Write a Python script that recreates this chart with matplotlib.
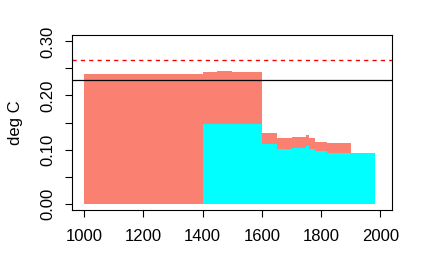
import matplotlib
matplotlib.use('Agg')
import matplotlib.pyplot as plt
import numpy as np

plt.rcParams['font.family'] = ['Liberation Sans', 'DejaVu Sans']

# step edges (years) and heights (deg C)
salmon_edges = [1000, 1400, 1450, 1500, 1600, 1650, 1700, 1750, 1760, 1780, 1820, 1900]
salmon_vals = [0.239, 0.2427, 0.2445, 0.2427, 0.1307, 0.1213, 0.1232, 0.127, 0.1213, 0.1139, 0.112]

cyan_edges = [1400, 1600, 1650, 1700, 1750, 1760, 1780, 1820, 1980]
cyan_vals = [0.148, 0.1104, 0.1008, 0.1030, 0.1066, 0.1008, 0.0965, 0.0940]

black_level = 0.229
red_level = 0.266

xticks = [1000, 1200, 1400, 1600, 1800, 2000]
yticks = [0.00, 0.05, 0.10, 0.15, 0.20, 0.25, 0.30]
ytick_labels = ['0.00', '', '0.10', '', '0.20', '', '0.30']


def main():
    fig = plt.figure(figsize=(4.28, 2.80), dpi=100)
    ax = fig.add_axes([72.3 / 428, 1 - 210 / 280, 320 / 428, 175 / 280])

    ax.stairs(salmon_vals, salmon_edges, fill=True, baseline=0, color='salmon', lw=0)
    ax.stairs(cyan_vals, cyan_edges, fill=True, baseline=0, color='cyan', lw=0)

    ax.axhline(black_level, color='black', lw=0.9)
    ax.axhline(red_level, color='red', lw=1.0, linestyle=(0, (3, 3)))

    ax.set_xlim(960, 2040)
    ax.set_ylim(-0.012, 0.312)
    ax.set_xticks(xticks)
    ax.set_xticklabels([str(t) for t in xticks])
    ax.set_yticks(yticks)
    ax.set_yticklabels(ytick_labels, rotation=90, va='center')
    ax.tick_params(axis='both', direction='out', length=5, width=0.8,
                   labelsize=12)
    ax.tick_params(axis='x', pad=9)
    ax.tick_params(axis='y', pad=7)
    for s in ax.spines.values():
        s.set_linewidth(0.8)

    ax.set_ylabel('deg C', fontsize=12, labelpad=13)

    fig.savefig('out.png', dpi=100)
    plt.close(fig)


if __name__ == '__main__':
    main()
